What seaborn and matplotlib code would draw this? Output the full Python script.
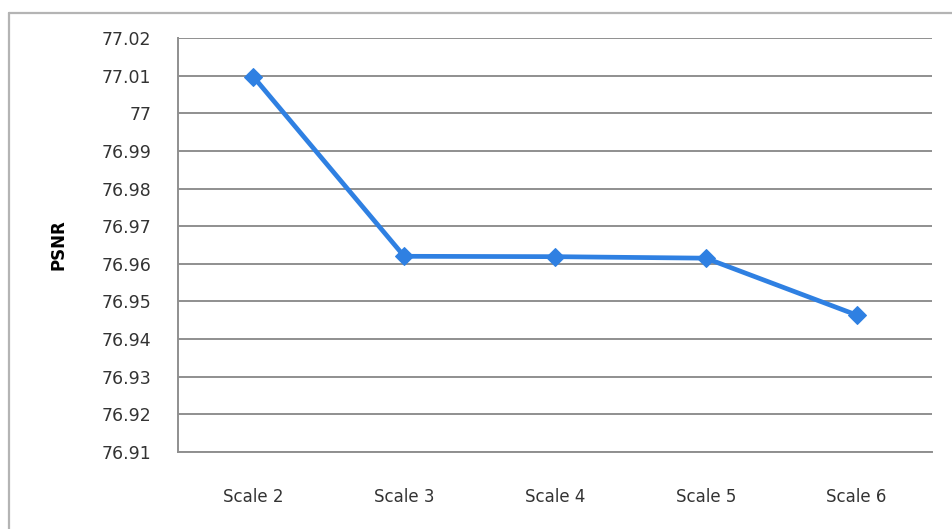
import matplotlib
matplotlib.use("Agg")
import matplotlib.pyplot as plt
from matplotlib.lines import Line2D
import seaborn as sns
import pandas as pd

# PSNR for each decomposition scale
scales = ["Scale 2", "Scale 3", "Scale 4", "Scale 5", "Scale 6"]
psnr = [77.0097, 76.9620, 76.9619, 76.9615, 76.9464]
y_ticks = [76.91, 76.92, 76.93, 76.94, 76.95, 76.96, 76.97, 76.98, 76.99, 77.0, 77.01, 77.02]
y_tick_labels = ["76.91", "76.92", "76.93", "76.94", "76.95", "76.96",
                 "76.97", "76.98", "76.99", "77", "77.01", "77.02"]

df = pd.DataFrame({"scale": scales, "psnr": psnr})

sns.set_theme(style="white")
plt.rcParams["font.family"] = ["DejaVu Sans"]

W, H = 953, 529
fig = plt.figure(figsize=(W / 100, H / 100), dpi=100)
ax = fig.add_axes([178 / W, 1 - 452 / H, (932 - 178) / W, (452 - 38) / H])

line_color = "#2F80E2"
sns.lineplot(data=df, x="scale", y="psnr", ax=ax, sort=False,
             color=line_color, linewidth=3.4, marker="D", markersize=9.5,
             markeredgecolor=line_color, markerfacecolor=line_color)

ax.set_xlim(-0.5, len(scales) - 0.5)
ax.set_ylim(y_ticks[0], y_ticks[-1])
ax.set_yticks(y_ticks)
ax.set_yticklabels(y_tick_labels)

grid_color = "#8F8F8F"
ax.yaxis.grid(True, color=grid_color, linewidth=1.4)
ax.xaxis.grid(False)
ax.set_axisbelow(True)

for side in ["top", "right"]:
    ax.spines[side].set_visible(False)
for side in ["left", "bottom"]:
    ax.spines[side].set_visible(True)
    ax.spines[side].set_color(grid_color)
    ax.spines[side].set_linewidth(1.4)

ax.tick_params(axis="y", length=0, pad=19, labelsize=12.5, labelcolor="#333333")
ax.tick_params(axis="x", length=0, pad=26, labelsize=12, labelcolor="#333333")

ax.set_xlabel("")
ax.set_ylabel("PSNR", fontsize=12, fontweight="bold", color="black")
ax.yaxis.set_label_coords(-0.146, 0.5)

# chart frame along the top and left edges
frame_color = "#B4B4B4"
fig.add_artist(Line2D([9 / W, 1.0], [1 - 13 / H, 1 - 13 / H], transform=fig.transFigure,
                      color=frame_color, linewidth=1.6))
fig.add_artist(Line2D([9 / W, 9 / W], [0.0, 1 - 13 / H], transform=fig.transFigure,
                      color=frame_color, linewidth=1.6))

fig.savefig("out.png", dpi=100, facecolor="white")
